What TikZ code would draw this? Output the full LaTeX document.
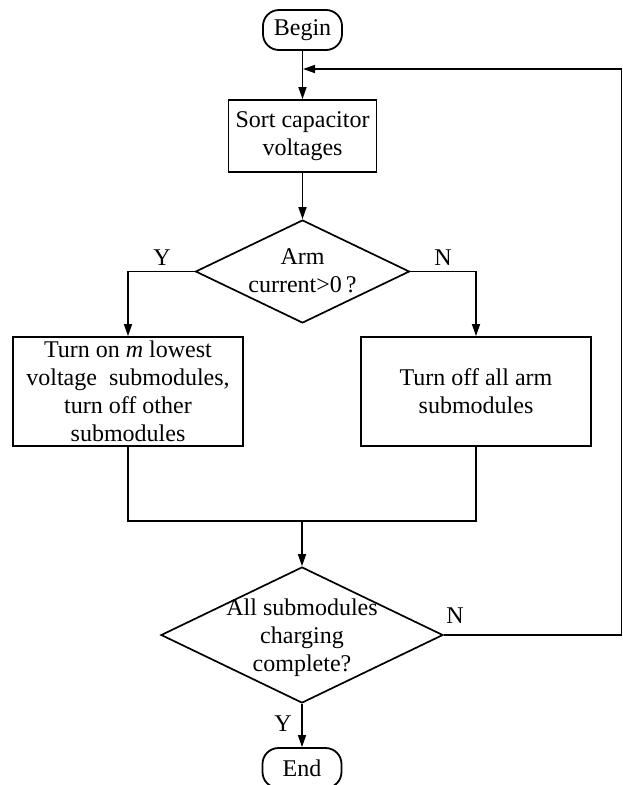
\documentclass[tikz,border=0pt]{standalone}
\usepackage{fontspec}
\setmainfont{Liberation Serif}
\usetikzlibrary{shapes.geometric,arrows.meta}
\begin{document}
\begin{tikzpicture}[x=1pt,y=-1pt,
  txt/.style={font=\fontsize{24}{28}\selectfont, align=center, inner sep=0pt},
  term/.style={draw, line width=1.8pt, rounded corners=16pt, minimum width=79pt, minimum height=40pt, inner sep=0pt, font=\fontsize{24}{28}\selectfont},
  proc/.style={draw, line width=1.8pt, inner sep=0pt, align=center, font=\fontsize{24}{28}\selectfont},
  dec/.style={draw, diamond, line width=1.7pt, inner sep=0pt, shape aspect=2},
  conn/.style={line width=1.6pt},
  arr/.style={conn, -{Triangle[length=12pt,width=8pt]}},
  lab/.style={font=\fontsize{24}{28}\selectfont, inner sep=0pt}
]
\fill[white] (0,0) rectangle (623,785);
\useasboundingbox (0,0) rectangle (623,785);

\node[term] (begin) at (302.5,30) {Begin};
\node[proc, minimum width=148pt, minimum height=72pt] (sort) at (302.5,136) {Sort capacitor\\voltages};
\node[dec, minimum width=214pt, minimum height=103pt] (d1) at (302.5,271.5) {};
\node[txt] (t1) at (302.5,271) {Arm\\current>0\,?};
\node[proc, minimum width=230pt, minimum height=109pt] (left) at (128,391.5) {Turn on \textit{m} lowest\\voltage\ \ submodules,\\turn off other\\submodules};
\node[proc, minimum width=230pt, minimum height=109pt] (right) at (476,391.5) {Turn off all arm\\submodules};
\node[dec, minimum width=282pt, minimum height=136pt] (d2) at (302,635) {};
\node[txt] (t2) at (302,638) {All submodules\\charging\\complete?};
\node[term] (end) at (302,768) {End};

\coordinate (m) at (302,521);
\coordinate (fb) at (303,69);
\coordinate (rt) at (621.5,69);
\coordinate (rb) at (621.5,635);

\draw[arr] (begin) -- (sort);
\draw[arr] (sort) -- (d1);
\draw[arr] (d1.west) -| (left.north);
\draw[arr] (d1.east) -| (right.north);
\draw[conn] (left.south) -- (left.south |- m) -- (right.south |- m) -- (right.south);
\draw[arr] (m) -- (d2.north);
\draw[arr] (d2.south) -- (end);
\draw[arr] (d2.east) -- (rb) -- (rt) -- (fb);

\node[lab] (y1) at (162,258) {Y};
\node[lab] (n1) at (443,258) {N};
\node[lab] (n2) at (455,616) {N};
\node[lab] (y2) at (283,724) {Y};
\end{tikzpicture}
\end{document}
